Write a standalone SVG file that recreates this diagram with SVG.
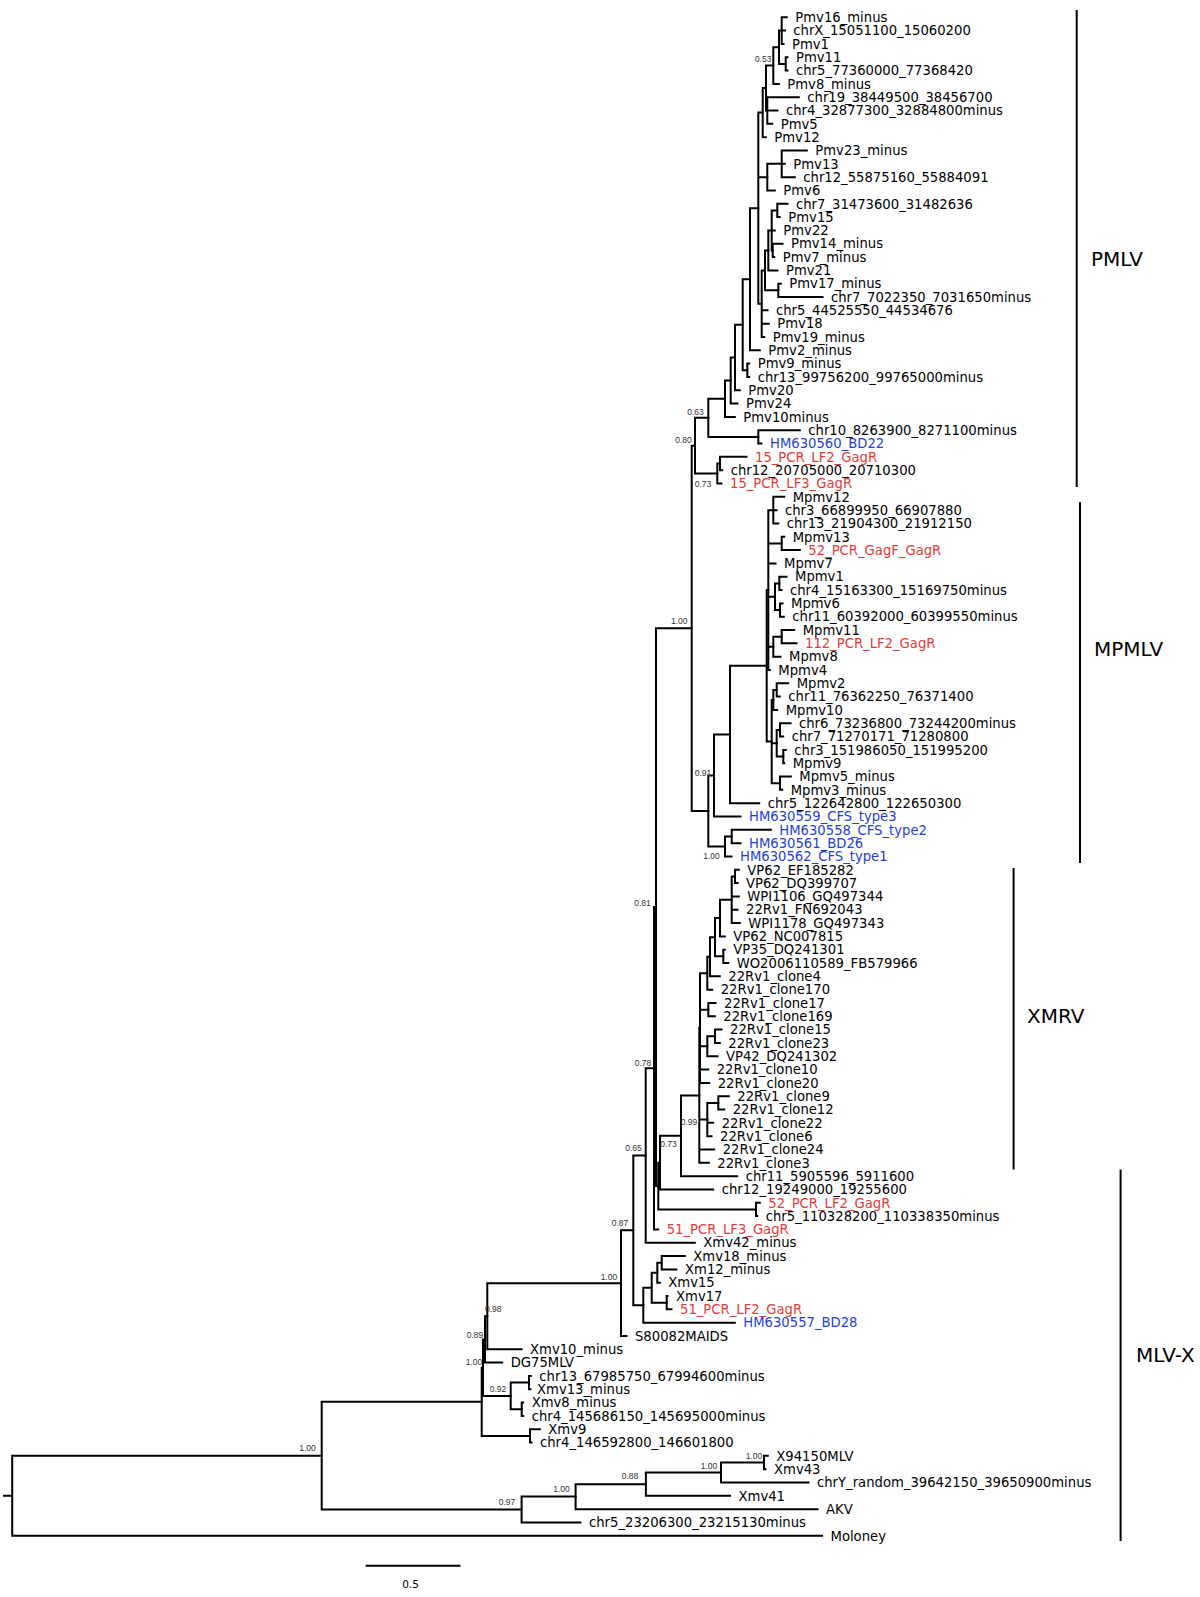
<svg xmlns="http://www.w3.org/2000/svg" width="1200" height="1597" viewBox="0 0 1200 1597">
<style>
.br path{fill:none;stroke:#000;stroke-width:2;stroke-linecap:square;vector-effect:non-scaling-stroke}
.t{font-family:"DejaVu Sans",sans-serif;font-size:13.2px;fill:#000}
.r{fill:#e23b3b}
.bl{fill:#1f3fd6}
.s{font-family:"Liberation Sans",sans-serif;font-size:8.5px;fill:#333;text-anchor:middle}
.c{font-family:"DejaVu Sans",sans-serif;font-size:20px;fill:#000}
.bar{stroke:#000;stroke-width:2;fill:none}
</style>
<rect width="1200" height="1597" fill="#fff"/>
<g id="connectors" class="br" transform="translate(0 17.3) scale(1 13.32)">
<path d="M781.7 0V2M781.7 0H786.7M781.7 1H785M781.7 2H783.5"/>
<path d="M785.7 3V4M785.7 3H787.5M785.7 4H787.5"/>
<path d="M779 1V3.5M779 1H781.7M779 3.5H785.7"/>
<path d="M773.3 2.25V5M773.3 2.25H779M773.3 5H778.8"/>
<path d="M767.3 6V8M767.3 6H798.8M767.3 7H777.5M767.3 8H772.2"/>
<path d="M766 3.625V7M766 3.625H773.3M766 7H767.3"/>
<path d="M762.7 5.3125V9M762.7 5.3125H766M762.7 9H765.8"/>
<path d="M781.7 10V12M781.7 10H806.8M781.7 11H784.8M781.7 12H794.8"/>
<path d="M767.3 11V13M767.3 11H781.7M767.3 13H774.8"/>
<path d="M777.3 14V15M777.3 14H787.5M777.3 15H779.8"/>
<path d="M772.7 17V18M772.7 17H782.5M772.7 18H774.2"/>
<path d="M771.7 14.5V17.5M771.7 14.5H777.3M771.7 16H774.8M771.7 17.5H772.7"/>
<path d="M768.3 16V19M768.3 16H771.7M768.3 19H777.5"/>
<path d="M778.3 20V21M778.3 20H780.8M778.3 21H822.5"/>
<path d="M765 17.5V20.5M765 17.5H768.3M765 20.5H778.3"/>
<path d="M761.7 19V24M761.7 19H765M761.7 22H767.5M761.7 23H768.8M761.7 24H764.2"/>
<path d="M758.3 7.156V21.5M758.3 7.156H762.7M758.3 12H767.3M758.3 21.5H761.7"/>
<path d="M750 14.33V25M750 14.33H758.3M750 25H759.8"/>
<path d="M747.3 26V27M747.3 26H749.2M747.3 27H749.2"/>
<path d="M742.7 19.66V26.5M742.7 19.66H750M742.7 26.5H747.3"/>
<path d="M735 23.08V28M735 23.08H742.7M735 28H739.8"/>
<path d="M730.7 25.54V29M730.7 25.54H735M730.7 29H737.5"/>
<path d="M725 27.27V30M725 27.27H730.7M725 30H734.8"/>
<path d="M758.3 31V32M758.3 31H799.8M758.3 32H761.5"/>
<path d="M708.3 28.64V31.5M708.3 28.64H725M708.3 31.5H758.3"/>
<path d="M720 33V34M720 33H746.5M720 34H722.2"/>
<path d="M717.3 33.5V35M717.3 33.5H720M717.3 35H721.5"/>
<path d="M695 30.07V34.25M695 30.07H708.3M695 34.25H717.3"/>
<path d="M691.7 32.16V59.585M691.7 32.16H695M691.7 59.585H708.3"/>
<path d="M773.3 36V38M773.3 36H784.2M773.3 37H776.5M773.3 38H778.2"/>
<path d="M781.7 39V40M781.7 39H784.2M781.7 40H799.8"/>
<path d="M779.3 42V43M779.3 42H786.5M779.3 43H781.5"/>
<path d="M780 44V45M780 44H782.5M780 45H783.8"/>
<path d="M775 42.5V44.5M775 42.5H779.3M775 44.5H780"/>
<path d="M781.7 46V47M781.7 46H794.2M781.7 47H796.5"/>
<path d="M773.3 46.5V48M773.3 46.5H781.7M773.3 48H780.5"/>
<path d="M768.3 37V49M768.3 37H773.3M768.3 39.5H781.7M768.3 41H775.5M768.3 43.5H775M768.3 47.25H773.3M768.3 49H769.8"/>
<path d="M776.7 50V51M776.7 50H788.2M776.7 51H779.8"/>
<path d="M773.3 50.5V52M773.3 50.5H776.7M773.3 52H777.2"/>
<path d="M780 53V54M780 53H790.5M780 54H783.2"/>
<path d="M783.3 55V56M783.3 55H785.8M783.3 56H784.2"/>
<path d="M776.7 53.5V55.5M776.7 53.5H780M776.7 55.5H783.3"/>
<path d="M780 57V58M780 57H790.8M780 58H782.2"/>
<path d="M771.7 51.25V57.5M771.7 51.25H773.3M771.7 54.5H776.7M771.7 57.5H780"/>
<path d="M766.7 43V54.375M766.7 43H768.3M766.7 54.375H771.7"/>
<path d="M730 48.6875V59M730 48.6875H766.7M730 59H759.2"/>
<path d="M714 53.84V60M714 53.84H730M714 60H740.5"/>
<path d="M731.7 61V62M731.7 61H770.8M731.7 62H740.5"/>
<path d="M725 61.5V63M725 61.5H731.7M725 63H731.5"/>
<path d="M708.3 56.92V62.25M708.3 56.92H714M708.3 62.25H725"/>
<path d="M735 64V65M735 64H738.8M735 65H737.5"/>
<path d="M731.7 64.5V68M731.7 64.5H735M731.7 66H738.8M731.7 67H737.5M731.7 68H739.8"/>
<path d="M720 66.25V69M720 66.25H731.7M720 69H724.8"/>
<path d="M723.3 70V71M723.3 70H724.8M723.3 71H728.2"/>
<path d="M715 67.625V70.5M715 67.625H720M715 70.5H723.3"/>
<path d="M710 69.06V72M710 69.06H715M710 72H719.8"/>
<path d="M707.3 70.53V73M707.3 70.53H710M707.3 73H712.2"/>
<path d="M708.3 74V75M708.3 74H715.5M708.3 75H714.8"/>
<path d="M715 76V77M715 76H721.5M715 77H719.8"/>
<path d="M707.3 76.5V78M707.3 76.5H715M707.3 78H717.5"/>
<path d="M700 71.77V80M700 71.77H707.3M700 74.5H708.3M700 77.25H707.3M700 79H708.2M700 80H709.2"/>
<path d="M718.3 81V82M718.3 81H728.8M718.3 82H724.2"/>
<path d="M707.3 81.5V84M707.3 81.5H718.3M707.3 83H713.2M707.3 84H711.5"/>
<path d="M699.3 75.88V86M699.3 75.88H700M699.3 82.75H707.3M699.3 85H714.2M699.3 86H708.8"/>
<path d="M681 80.94V87M681 80.94H699.3M681 87H737.2"/>
<path d="M660 83.97V88M660 83.97H681M660 88H713.2"/>
<path d="M756 89V90M756 89H759.8M756 90H757.2"/>
<path d="M658.3 85.99V89.5M658.3 85.99H660M658.3 89.5H756"/>
<path d="M656 45.87V87.74M656 45.87H691.7M656 87.74H658.3"/>
<path d="M654 66.8V91M654 66.8H656M654 91H658.2"/>
<path d="M645.7 78.9V92M645.7 78.9H654M645.7 92H694.8"/>
<path d="M661.7 93V94M661.7 93H684.8M661.7 94H676.5"/>
<path d="M657.3 93.5V95M657.3 93.5H661.7M657.3 95H659.8"/>
<path d="M666.7 96V97M666.7 96H667.5M666.7 97H671.5"/>
<path d="M651.7 94.25V96.5M651.7 94.25H657.3M651.7 96.5H666.7"/>
<path d="M643.3 95.375V98M643.3 95.375H651.7M643.3 98H734.8"/>
<path d="M633.3 85.45V96.69M633.3 85.45H645.7M633.3 96.69H643.3"/>
<path d="M621 91.07V99M621 91.07H633.3M621 99H626.5"/>
<path d="M487.3 95.035V100M487.3 95.035H621M487.3 100H521.5"/>
<path d="M485 97.52V101M485 97.52H487.3M485 101H502.2"/>
<path d="M529 102V103M529 102H530.8M529 103H530.5"/>
<path d="M521.7 104V105M521.7 104H523.2M521.7 105H523.2"/>
<path d="M510.7 102.5V104.5M510.7 102.5H529M510.7 104.5H521.7"/>
<path d="M483 99.26V103.5M483 99.26H485M483 103.5H510.7"/>
<path d="M530 106V107M530 106H539.8M530 107H531.5"/>
<path d="M481.7 101.38V106.5M481.7 101.38H483M481.7 106.5H530"/>
<path d="M764 108V109M764 108H767.8M764 109H765.5"/>
<path d="M721 108.5V110M721 108.5H764M721 110H808.5"/>
<path d="M645.9 109.25V111M645.9 109.25H721M645.9 111H730"/>
<path d="M575.6 110.125V112M575.6 110.125H645.9M575.6 112H817.5"/>
<path d="M521.6 111.06V113M521.6 111.06H575.6M521.6 113H580.5"/>
<path d="M321.7 103.94V112.03M321.7 103.94H481.7M321.7 112.03H521.6"/>
<path d="M12.2 107.99V114M12.2 107.99H321.7M12.2 114H822M4 110.99H12.2"/>
</g>
<g id="leaves" class="t">
<g id="leaf-Pmv16_minus"><text x="795.3" y="22.0">Pmv16_minus</text></g>
<g id="leaf-chrX"><text x="793.3" y="35.3">chrX_15051100_15060200</text></g>
<g id="leaf-Pmv1"><text x="792" y="48.6">Pmv1</text></g>
<g id="leaf-Pmv11"><text x="796" y="62.0">Pmv11</text></g>
<g id="leaf-chr5_77360000"><text x="796" y="75.3">chr5_77360000_77368420</text></g>
<g id="leaf-Pmv8_minus"><text x="787.3" y="88.6">Pmv8_minus</text></g>
<g id="leaf-chr19"><text x="807.3" y="101.9">chr19_38449500_38456700</text></g>
<g id="leaf-chr4_32877300"><text x="786" y="115.2">chr4_32877300_32884800minus</text></g>
<g id="leaf-Pmv5"><text x="780.7" y="128.6">Pmv5</text></g>
<g id="leaf-Pmv12"><text x="774.3" y="141.9">Pmv12</text></g>
<g id="leaf-Pmv23_minus"><text x="815.3" y="155.2">Pmv23_minus</text></g>
<g id="leaf-Pmv13"><text x="793.3" y="168.5">Pmv13</text></g>
<g id="leaf-chr12_55875160"><text x="803.3" y="181.8">chr12_55875160_55884091</text></g>
<g id="leaf-Pmv6"><text x="783.3" y="195.2">Pmv6</text></g>
<g id="leaf-chr7_31473600"><text x="796" y="208.5">chr7_31473600_31482636</text></g>
<g id="leaf-Pmv15"><text x="788.3" y="221.8">Pmv15</text></g>
<g id="leaf-Pmv22"><text x="783.3" y="235.1">Pmv22</text></g>
<g id="leaf-Pmv14_minus"><text x="791" y="248.4">Pmv14_minus</text></g>
<g id="leaf-Pmv7_minus"><text x="782.7" y="261.8">Pmv7_minus</text></g>
<g id="leaf-Pmv21"><text x="786" y="275.1">Pmv21</text></g>
<g id="leaf-Pmv17_minus"><text x="789.3" y="288.4">Pmv17_minus</text></g>
<g id="leaf-chr7_7022350"><text x="831" y="301.7">chr7_7022350_7031650minus</text></g>
<g id="leaf-chr5_44525550"><text x="776" y="315.0">chr5_44525550_44534676</text></g>
<g id="leaf-Pmv18"><text x="777.3" y="328.4">Pmv18</text></g>
<g id="leaf-Pmv19_minus"><text x="772.7" y="341.7">Pmv19_minus</text></g>
<g id="leaf-Pmv2_minus"><text x="768.3" y="355.0">Pmv2_minus</text></g>
<g id="leaf-Pmv9_minus"><text x="757.7" y="368.3">Pmv9_minus</text></g>
<g id="leaf-chr13_99756200"><text x="757.7" y="381.6">chr13_99756200_99765000minus</text></g>
<g id="leaf-Pmv20"><text x="748.3" y="395.0">Pmv20</text></g>
<g id="leaf-Pmv24"><text x="746" y="408.3">Pmv24</text></g>
<g id="leaf-Pmv10minus"><text x="743.3" y="421.6">Pmv10minus</text></g>
<g id="leaf-chr10_8263900"><text x="808.3" y="434.9">chr10_8263900_8271100minus</text></g>
<g id="leaf-HM630560_BD22"><text class="bl" x="770" y="448.2">HM630560_BD22</text></g>
<g id="leaf-15_PCR_LF2_GagR"><text class="r" x="755" y="461.6">15_PCR_LF2_GagR</text></g>
<g id="leaf-chr12_20705000"><text x="730.7" y="474.9">chr12_20705000_20710300</text></g>
<g id="leaf-15_PCR_LF3_GagR"><text class="r" x="730" y="488.2">15_PCR_LF3_GagR</text></g>
<g id="leaf-Mpmv12"><text x="792.7" y="501.5">Mpmv12</text></g>
<g id="leaf-chr3_66899950"><text x="785" y="514.8">chr3_66899950_66907880</text></g>
<g id="leaf-chr13_21904300"><text x="786.7" y="528.2">chr13_21904300_21912150</text></g>
<g id="leaf-Mpmv13"><text x="792.7" y="541.5">Mpmv13</text></g>
<g id="leaf-52_PCR_GagF_GagR"><text class="r" x="808.3" y="554.8">52_PCR_GagF_GagR</text></g>
<g id="leaf-Mpmv7"><text x="784" y="568.1">Mpmv7</text></g>
<g id="leaf-Mpmv1"><text x="795" y="581.4">Mpmv1</text></g>
<g id="leaf-chr4_15163300"><text x="790" y="594.8">chr4_15163300_15169750minus</text></g>
<g id="leaf-Mpmv6"><text x="791" y="608.1">Mpmv6</text></g>
<g id="leaf-chr11_60392000"><text x="792.3" y="621.4">chr11_60392000_60399550minus</text></g>
<g id="leaf-Mpmv11"><text x="802.7" y="634.7">Mpmv11</text></g>
<g id="leaf-112_PCR_LF2_GagR"><text class="r" x="805" y="648.0">112_PCR_LF2_GagR</text></g>
<g id="leaf-Mpmv8"><text x="789" y="661.4">Mpmv8</text></g>
<g id="leaf-Mpmv4"><text x="778.3" y="674.7">Mpmv4</text></g>
<g id="leaf-Mpmv2"><text x="796.7" y="688.0">Mpmv2</text></g>
<g id="leaf-chr11_76362250"><text x="788.3" y="701.3">chr11_76362250_76371400</text></g>
<g id="leaf-Mpmv10"><text x="785.7" y="714.6">Mpmv10</text></g>
<g id="leaf-chr6_73236800"><text x="799" y="728.0">chr6_73236800_73244200minus</text></g>
<g id="leaf-chr7_71270171"><text x="791.7" y="741.3">chr7_71270171_71280800</text></g>
<g id="leaf-chr3_151986050"><text x="794.3" y="754.6">chr3_151986050_151995200</text></g>
<g id="leaf-Mpmv9"><text x="792.7" y="767.9">Mpmv9</text></g>
<g id="leaf-Mpmv5_minus"><text x="799.3" y="781.2">Mpmv5_minus</text></g>
<g id="leaf-Mpmv3_minus"><text x="790.7" y="794.6">Mpmv3_minus</text></g>
<g id="leaf-chr5_122642800"><text x="767.7" y="807.9">chr5_122642800_122650300</text></g>
<g id="leaf-HM630559_CFS_type3"><text class="bl" x="749" y="821.2">HM630559_CFS_type3</text></g>
<g id="leaf-HM630558_CFS_type2"><text class="bl" x="779.3" y="834.5">HM630558_CFS_type2</text></g>
<g id="leaf-HM630561_BD26"><text class="bl" x="749" y="847.8">HM630561_BD26</text></g>
<g id="leaf-HM630562_CFS_type1"><text class="bl" x="740" y="861.2">HM630562_CFS_type1</text></g>
<g id="leaf-VP62_EF185282"><text x="747.3" y="874.5">VP62_EF185282</text></g>
<g id="leaf-VP62_DQ399707"><text x="746" y="887.8">VP62_DQ399707</text></g>
<g id="leaf-WPI1106_GQ497344"><text x="747.3" y="901.1">WPI1106_GQ497344</text></g>
<g id="leaf-22Rv1_FN692043"><text x="746" y="914.4">22Rv1_FN692043</text></g>
<g id="leaf-WPI1178_GQ497343"><text x="748.3" y="927.8">WPI1178_GQ497343</text></g>
<g id="leaf-VP62_NC007815"><text x="733.3" y="941.1">VP62_NC007815</text></g>
<g id="leaf-VP35_DQ241301"><text x="733.3" y="954.4">VP35_DQ241301</text></g>
<g id="leaf-WO2006110589_FB579966"><text x="736.7" y="967.7">WO2006110589_FB579966</text></g>
<g id="leaf-22Rv1_clone4"><text x="728.3" y="981.0">22Rv1_clone4</text></g>
<g id="leaf-22Rv1_clone170"><text x="720.7" y="994.4">22Rv1_clone170</text></g>
<g id="leaf-22Rv1_clone17"><text x="724" y="1007.7">22Rv1_clone17</text></g>
<g id="leaf-22Rv1_clone169"><text x="723.3" y="1021.0">22Rv1_clone169</text></g>
<g id="leaf-22Rv1_clone15"><text x="730" y="1034.3">22Rv1_clone15</text></g>
<g id="leaf-22Rv1_clone23"><text x="728.3" y="1047.6">22Rv1_clone23</text></g>
<g id="leaf-VP42_DQ241302"><text x="726" y="1061.0">VP42_DQ241302</text></g>
<g id="leaf-22Rv1_clone10"><text x="716.7" y="1074.3">22Rv1_clone10</text></g>
<g id="leaf-22Rv1_clone20"><text x="717.7" y="1087.6">22Rv1_clone20</text></g>
<g id="leaf-22Rv1_clone9"><text x="737.3" y="1100.9">22Rv1_clone9</text></g>
<g id="leaf-22Rv1_clone12"><text x="732.7" y="1114.2">22Rv1_clone12</text></g>
<g id="leaf-22Rv1_clone22"><text x="721.7" y="1127.6">22Rv1_clone22</text></g>
<g id="leaf-22Rv1_clone6"><text x="720" y="1140.9">22Rv1_clone6</text></g>
<g id="leaf-22Rv1_clone24"><text x="722.7" y="1154.2">22Rv1_clone24</text></g>
<g id="leaf-22Rv1_clone3"><text x="717.3" y="1167.5">22Rv1_clone3</text></g>
<g id="leaf-chr11_5905596"><text x="745.7" y="1180.8">chr11_5905596_5911600</text></g>
<g id="leaf-chr12_19249000"><text x="721.7" y="1194.2">chr12_19249000_19255600</text></g>
<g id="leaf-52_PCR_LF2_GagR"><text class="r" x="768.3" y="1207.5">52_PCR_LF2_GagR</text></g>
<g id="leaf-chr5_110328200"><text x="765.7" y="1220.8">chr5_110328200_110338350minus</text></g>
<g id="leaf-51_PCR_LF3_GagR"><text class="r" x="666.7" y="1234.1">51_PCR_LF3_GagR</text></g>
<g id="leaf-Xmv42_minus"><text x="703.3" y="1247.4">Xmv42_minus</text></g>
<g id="leaf-Xmv18_minus"><text x="693.3" y="1260.8">Xmv18_minus</text></g>
<g id="leaf-Xm12_minus"><text x="685" y="1274.1">Xm12_minus</text></g>
<g id="leaf-Xmv15"><text x="668.3" y="1287.4">Xmv15</text></g>
<g id="leaf-Xmv17"><text x="676" y="1300.7">Xmv17</text></g>
<g id="leaf-51_PCR_LF2_GagR"><text class="r" x="680" y="1314.0">51_PCR_LF2_GagR</text></g>
<g id="leaf-HM630557_BD28"><text class="bl" x="743.3" y="1327.4">HM630557_BD28</text></g>
<g id="leaf-S80082MAIDS"><text x="635" y="1340.7">S80082MAIDS</text></g>
<g id="leaf-Xmv10_minus"><text x="530" y="1354.0">Xmv10_minus</text></g>
<g id="leaf-DG75MLV"><text x="510.7" y="1367.3">DG75MLV</text></g>
<g id="leaf-chr13_67985750"><text x="539.3" y="1380.6">chr13_67985750_67994600minus</text></g>
<g id="leaf-Xmv13_minus"><text x="537" y="1394.0">Xmv13_minus</text></g>
<g id="leaf-Xmv8_minus"><text x="531.7" y="1407.3">Xmv8_minus</text></g>
<g id="leaf-chr4_145686150"><text x="531.7" y="1420.6">chr4_145686150_145695000minus</text></g>
<g id="leaf-Xmv9"><text x="548.3" y="1433.9">Xmv9</text></g>
<g id="leaf-chr4_146592800"><text x="540" y="1447.2">chr4_146592800_146601800</text></g>
<g id="leaf-X94150MLV"><text x="776.3" y="1460.6">X94150MLV</text></g>
<g id="leaf-Xmv43"><text x="774" y="1473.9">Xmv43</text></g>
<g id="leaf-chrY_random"><text x="817" y="1487.2">chrY_random_39642150_39650900minus</text></g>
<g id="leaf-Xmv41"><text x="738.5" y="1500.5">Xmv41</text></g>
<g id="leaf-AKV"><text x="826" y="1513.8">AKV</text></g>
<g id="leaf-chr5_23206300"><text x="589" y="1527.2">chr5_23206300_23215130minus</text></g>
<g id="leaf-Moloney"><text x="830.5" y="1540.5">Moloney</text></g>
</g>
<g id="support" class="s">
<text x="763.3" y="62.3">0.53</text>
<text x="695.5" y="414.5">0.63</text>
<text x="683.5" y="443">0.80</text>
<text x="703" y="486.5">0.73</text>
<text x="679.2" y="623.5">1.00</text>
<text x="703" y="776">0.91</text>
<text x="711.5" y="859">1.00</text>
<text x="642.5" y="906">0.81</text>
<text x="643" y="1065.5">0.78</text>
<text x="689" y="1124.7">0.99</text>
<text x="668.5" y="1147.3">0.73</text>
<text x="633.5" y="1151">0.65</text>
<text x="620" y="1226">0.87</text>
<text x="609" y="1280">1.00</text>
<text x="493.3" y="1312">0.98</text>
<text x="475" y="1338">0.89</text>
<text x="474" y="1365">1.00</text>
<text x="498" y="1392">0.92</text>
<text x="307.5" y="1451">1.00</text>
<text x="754" y="1459">1.00</text>
<text x="709" y="1469">1.00</text>
<text x="630" y="1479">0.88</text>
<text x="561.5" y="1492">1.00</text>
<text x="507" y="1505">0.97</text>
</g>
<g id="clades">
<g id="clade-PMLV"><line class="bar" x1="1076.7" y1="10" x2="1076.7" y2="487"/><text class="c" x="1091" y="266">PMLV</text></g>
<g id="clade-MPMLV"><line class="bar" x1="1080" y1="502" x2="1080" y2="863"/><text class="c" x="1094" y="656.3">MPMLV</text></g>
<g id="clade-XMRV"><line class="bar" x1="1013.6" y1="868" x2="1013.6" y2="1169.5"/><text class="c" x="1027" y="1023">XMRV</text></g>
<g id="clade-MLVX"><line class="bar" x1="1120.6" y1="1169.5" x2="1120.6" y2="1541"/><text class="c" x="1136" y="1362.3">MLV-X</text></g>
</g>
<g id="scale">
<line x1="365.7" y1="1565.7" x2="460.5" y2="1565.7" stroke="#000" stroke-width="2"/>
<text x="410.5" y="1588" font-family="DejaVu Sans, sans-serif" font-size="10.5" text-anchor="middle">0.5</text>
</g>
</svg>
